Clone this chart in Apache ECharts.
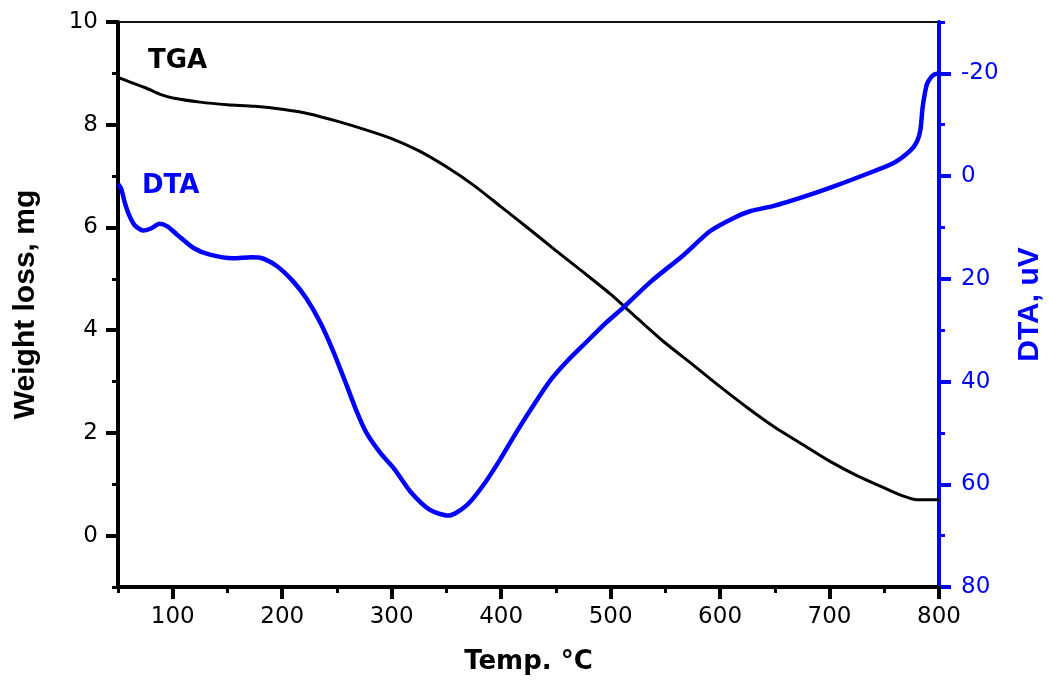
<!DOCTYPE html>
<html>
<head>
<meta charset="utf-8">
<script src="https://cdn.jsdelivr.net/npm/echarts@6/dist/echarts.min.js"></script>
<style>
html,body{margin:0;padding:0;background:#fff;}
#chart{width:1049px;height:682px;}
</style>
</head>
<body>
<div id="chart"></div>
<script>
// Temperature (°C) and TGA weight (mg)
const tgaTemp = [50, 60, 75, 90, 100, 125, 150, 175, 200, 225, 250, 275, 300, 325, 350, 375, 400, 425, 450, 475, 500, 525, 550, 575, 600, 625, 650, 675, 700, 725, 750, 765, 780, 790, 800];
const tgaWeight = [8.92, 8.84, 8.72, 8.58, 8.52, 8.44, 8.39, 8.36, 8.30, 8.21, 8.07, 7.91, 7.73, 7.49, 7.18, 6.82, 6.40, 5.98, 5.55, 5.13, 4.70, 4.22, 3.75, 3.33, 2.90, 2.49, 2.11, 1.78, 1.45, 1.17, 0.93, 0.79, 0.70, 0.70, 0.70];

// Temperature (°C) and DTA signal (uV)
const dtaTemp = [50, 53, 56, 60, 65, 73, 80, 88, 95, 104, 119, 134, 155, 172, 180, 195, 210, 222, 235, 247, 259, 268, 277, 290, 302, 317, 335, 352, 369, 384, 399, 415, 433, 446, 460, 477, 494, 511, 537, 567, 591, 613, 628, 649, 674, 704, 735, 759, 774, 780, 783, 785, 787, 789, 793, 796, 800];
const dtaSignal = [1.5, 2.5, 5.0, 7.5, 9.5, 10.6, 10.2, 9.3, 9.8, 11.4, 14.0, 15.3, 16.0, 15.8, 15.9, 17.5, 20.5, 23.8, 28.6, 34.3, 40.8, 45.8, 50.0, 54.0, 56.9, 61.4, 65.0, 66.1, 64.0, 60.1, 55.2, 49.5, 43.5, 39.5, 36.1, 32.5, 28.9, 25.7, 20.5, 15.3, 10.7, 8.1, 6.8, 5.8, 4.2, 2.0, -0.5, -2.6, -5.0, -6.8, -9.0, -13.3, -16.0, -17.9, -19.3, -19.8, -20.0];

// Tick labels
const xMajorTicks = [100, 200, 300, 400, 500, 600, 700, 800];
const leftMajorTicks = [0, 2, 4, 6, 8, 10];
const rightMajorTicks = [-20, 0, 20, 40, 60, 80];

const tgaData = tgaTemp.map((t, i) => [t, tgaWeight[i]]);
const dtaData = dtaTemp.map((t, i) => [t, dtaSignal[i]]);

const BLUE = '#0000ff';
const tickFont = {fontFamily: 'DejaVu Sans', fontSize: 23};

const chart = echarts.init(document.getElementById('chart'), null, {renderer: 'canvas'});
chart.setOption({
  animation: false,
  backgroundColor: '#fff',
  grid: {left: 118, right: 110, top: 22, bottom: 95, outerBoundsMode: 'none', containLabel: false,
         show: true, borderColor: '#111', borderWidth: 2, backgroundColor: 'transparent'},
  xAxis: [
    {
      type: 'value', position: 'bottom', min: 50, max: 800, interval: 50,
      axisLine: {onZero: false, lineStyle: {color: '#000', width: 4}},
      axisTick: {length: 6, lineStyle: {color: '#000', width: 3}},
      axisLabel: {show: false},
      splitLine: {show: false}
    },
    {
      type: 'value', position: 'bottom', min: 50, max: 800,
      axisLine: {show: false, onZero: false},
      axisTick: {customValues: xMajorTicks, length: 12, lineStyle: {color: '#000', width: 4}},
      axisLabel: {customValues: xMajorTicks, color: '#000', margin: 19, ...tickFont},
      splitLine: {show: false},
      name: 'Temp. °C', nameLocation: 'middle', nameGap: 62,
      nameTextStyle: {fontFamily: 'DejaVu Sans', fontWeight: 'bold', fontSize: 26, color: '#000'}
    }
  ],
  yAxis: [
    {
      type: 'value', position: 'left', min: -1, max: 10, interval: 1,
      axisLine: {onZero: false, lineStyle: {color: '#000', width: 4}},
      axisTick: {length: 6, lineStyle: {color: '#000', width: 3}},
      axisLabel: {show: false},
      splitLine: {show: false},
      name: 'Weight loss, mg', nameLocation: 'middle', nameGap: 77, nameRotate: 90,
      nameTextStyle: {fontFamily: 'Liberation Sans', fontWeight: 'bold', fontSize: 30, color: '#000'}
    },
    {
      type: 'value', position: 'left', min: -1, max: 10,
      axisLine: {show: false, onZero: false},
      axisTick: {customValues: leftMajorTicks, length: 12, lineStyle: {color: '#000', width: 4}},
      axisLabel: {customValues: leftMajorTicks, color: '#000', margin: 20, ...tickFont},
      splitLine: {show: false}
    },
    {
      type: 'value', position: 'right', min: -30, max: 80, interval: 10, inverse: true,
      axisLine: {onZero: false, lineStyle: {color: BLUE, width: 4}},
      axisTick: {length: 6, lineStyle: {color: BLUE, width: 3}},
      axisLabel: {show: false},
      splitLine: {show: false},
      name: 'DTA, uV', nameLocation: 'middle', nameGap: 76, nameRotate: 90,
      nameTextStyle: {fontFamily: 'Liberation Sans', fontWeight: 'bold', fontSize: 30, color: BLUE}
    },
    {
      type: 'value', position: 'right', min: -30, max: 80, inverse: true,
      axisLine: {show: false, onZero: false},
      axisTick: {customValues: rightMajorTicks, length: 12, lineStyle: {color: BLUE, width: 4}},
      axisLabel: {customValues: rightMajorTicks, color: BLUE, margin: 22, ...tickFont},
      splitLine: {show: false}
    }
  ],
  graphic: [
    {type: 'text', left: 148, top: 48, style: {text: 'TGA', fill: '#000', font: 'bold 26px "DejaVu Sans"'}},
    {type: 'text', left: 142, top: 173, style: {text: 'DTA', fill: BLUE, font: 'bold 26px "DejaVu Sans"'}}
  ],
  series: [
    {
      name: 'TGA', type: 'line', xAxisIndex: 0, yAxisIndex: 0,
      data: tgaData, showSymbol: false, smooth: 0.25,
      lineStyle: {color: '#000', width: 3}, itemStyle: {color: '#000'}
    },
    {
      name: 'DTA', type: 'line', xAxisIndex: 0, yAxisIndex: 2,
      data: dtaData, showSymbol: false, smooth: 0.25,
      lineStyle: {color: BLUE, width: 4.5}, itemStyle: {color: BLUE}
    }
  ]
});
</script>
</body>
</html>
